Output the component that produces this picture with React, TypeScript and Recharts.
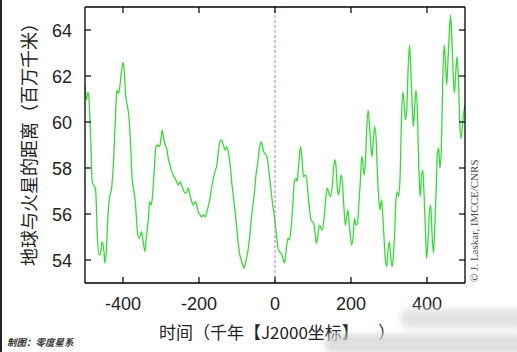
import { LineChart, Line, XAxis, YAxis, ReferenceLine } from 'recharts';

// time in kyr relative to J2000
const years = [
  -500, -497, -492, -490, -485, -481, -477, -472, -468, -463, -459, -455, -450, -448, -444, -439,
  -435, -430, -424, -419, -416, -412, -409, -404, -400, -397, -393, -389, -384, -380, -376, -371,
  -367, -362, -358, -354, -351, -347, -342, -339, -333, -330, -326, -323, -318, -314, -310, -304,
  -300, -297, -293, -289, -285, -281, -276, -272, -268, -263, -259, -254, -250, -246, -241, -237,
  -232, -228, -224, -219, -215, -210, -206, -202, -197, -193, -188, -184, -180, -175, -171, -167,
  -162, -158, -153, -149, -145, -140, -136, -131, -127, -123, -118, -114, -109, -105, -98, -94,
  -89, -85, -82, -79, -73, -67, -63, -58, -54, -50, -45, -41, -36, -32, -28, -23,
  -19, -15, -10, -6, -1, 3, 8, 12, 16, 21, 25, 29, 34, 38, 43, 47,
  51, 56, 58, 63, 67, 71, 75, 80, 84, 88, 94, 98, 102, 106, 109, 113,
  117, 121, 124, 129, 133, 137, 142, 146, 151, 155, 158, 161, 164, 167, 171, 174,
  178, 181, 185, 188, 192, 195, 199, 202, 206, 209, 213, 217, 221, 225, 228, 231,
  234, 238, 241, 245, 248, 252, 255, 259, 262, 266, 269, 273, 276, 280, 283, 287,
  290, 294, 297, 301, 304, 308, 311, 315, 318, 322, 325, 329, 332, 336, 340, 343,
  347, 350, 354, 357, 361, 364, 368, 371, 375, 378, 382, 385, 389, 392, 396, 399,
  403, 406, 410, 413, 417, 420, 424, 427, 431, 434, 438, 441, 445, 448, 452, 455,
  459, 462, 465, 469, 472, 476, 479, 483, 486, 490, 493, 497, 500,
];

// Earth-Mars distance, million km
const distance = [
  61.61, 60.96, 61.29, 61.1, 59.29, 57.41, 57.26, 57.04, 55.23, 54.22, 54.29, 54.8, 54.36, 53.86, 54.36, 56.1,
  56.75, 57.12, 58.57, 60.59, 61.39, 61.25, 61.46, 62.19, 62.59, 62.26, 61.17, 60.74, 60.16, 59.0, 57.55, 56.97,
  56.39, 55.23, 54.94, 55.09, 55.23, 54.8, 54.36, 54.94, 55.81, 56.54, 56.39, 56.68, 57.84, 58.86, 59.0, 58.93,
  59.29, 59.65, 59.29, 59.0, 58.86, 58.42, 58.13, 57.84, 57.7, 57.55, 57.41, 57.26, 57.41, 57.26, 57.04, 56.9,
  56.97, 57.12, 56.83, 56.54, 56.39, 56.54, 56.39, 56.1, 55.96, 55.88, 55.96, 55.88, 56.03, 56.39, 56.68, 57.12,
  57.55, 57.84, 58.13, 58.71, 59.14, 59.22, 59.0, 58.78, 58.93, 58.71, 58.13, 57.41, 56.68, 56.1, 54.94, 54.36,
  54.0, 53.78, 53.64, 53.78, 54.22, 54.94, 55.67, 56.39, 56.97, 57.7, 58.28, 58.86, 59.14, 58.86, 58.64, 58.57,
  58.28, 57.7, 56.97, 56.39, 55.81, 55.23, 54.51, 54.36, 54.29, 54.07, 53.86, 54.36, 54.94, 54.87, 55.52, 56.39,
  57.41, 57.55, 57.41, 58.28, 58.93, 58.42, 57.62, 57.7, 57.41, 56.68, 55.81, 55.67, 55.59, 55.09, 54.72, 55.09,
  55.52, 55.38, 55.3, 55.81, 56.54, 57.12, 56.9, 56.75, 57.26, 58.13, 58.35, 57.99, 57.12, 56.83, 57.26, 57.7,
  57.26, 56.39, 55.52, 55.81, 56.17, 55.67, 54.94, 54.65, 55.09, 55.81, 55.52, 55.59, 56.54, 57.55, 58.49, 58.28,
  57.7, 58.28, 59.58, 60.52, 60.01, 59.0, 58.49, 59.29, 59.8, 59.29, 57.99, 56.68, 56.17, 56.61, 56.1, 54.94,
  54.07, 53.71, 54.36, 54.8, 54.22, 53.71, 54.07, 55.23, 56.54, 56.97, 56.75, 57.55, 59.58, 61.32, 60.74, 60.09,
  60.59, 62.19, 63.35, 62.48, 60.74, 59.8, 60.74, 61.39, 60.3, 58.28, 56.75, 57.55, 57.91, 56.97, 55.23, 54.07,
  54.94, 55.96, 56.39, 55.23, 54.29, 55.23, 56.97, 58.57, 58.86, 57.99, 59.0, 61.46, 63.35, 62.77, 61.61, 62.62,
  63.93, 64.65, 63.78, 62.04, 61.25, 62.19, 62.84, 61.75, 60.01, 59.29, 59.87, 60.45, 60.74,
];

const xTicks = [-400, -200, 0, 200, 400];
const yTicks = [54, 56, 58, 60, 62, 64];

const yTitle = '地球与火星的距离（百万千米）';
const xTitle = '时间（千年【J2000坐标】';
const xTitleEnd = '）';
const credit = '© J. Laskar, IMCCE/CNRS';
const source = '制图：零度星系';

const data = years.map((t, i) => ({ t, d: distance[i] }));

const cjk = '"Noto Sans CJK SC", "Noto Sans", sans-serif';
const sans = '"Liberation Sans", Arial, sans-serif';
const TICK = 6;

// inward tick marks drawn by hand; labels outside
const BottomTick = (p: any) => (
  <g>
    <line x1={p.x} y1={p.y} x2={p.x} y2={p.y - TICK} stroke="#000" strokeWidth={1.2} />
    <text x={p.x} y={p.y + 27} textAnchor="middle" fontSize={18} fill="#222" fontFamily={sans}>
      {p.payload.value}
    </text>
  </g>
);

const TopTick = (p: any) => (
  <line x1={p.x} y1={p.y} x2={p.x} y2={p.y + TICK} stroke="#000" strokeWidth={1.2} />
);

const LeftTick = (p: any) => (
  <g>
    <line x1={p.x} y1={p.y} x2={p.x + TICK} y2={p.y} stroke="#000" strokeWidth={1.2} />
    <text x={p.x - 13} y={p.y + 6.5} textAnchor="end" fontSize={18} fill="#222" fontFamily={sans}>
      {p.payload.value}
    </text>
  </g>
);

const RightTick = (p: any) => (
  <line x1={p.x} y1={p.y} x2={p.x - TICK} y2={p.y} stroke="#000" strokeWidth={1.2} />
);

export default function App() {
  return (
    <div style={{ position: 'absolute', left: 0, top: 0, width: 517, height: 352, background: '#fff', overflow: 'hidden' }}>
      <div style={{ position: 'absolute', left: 0, top: 0, width: 2, height: 352, background: '#222' }} />
      <LineChart width={517} height={352} data={data} margin={{ top: 6, right: 51, bottom: 0, left: 0 }}>
        <XAxis
          xAxisId="b"
          dataKey="t"
          type="number"
          domain={[-500, 500]}
          ticks={xTicks}
          allowDataOverflow
          height={69}
          tickSize={0}
          tickMargin={0}
          tickLine={false}
          axisLine={{ stroke: '#000', strokeWidth: 1.3 }}
          tick={<BottomTick />}
        />
        <XAxis
          xAxisId="top"
          orientation="top"
          dataKey="t"
          type="number"
          domain={[-500, 500]}
          ticks={xTicks}
          allowDataOverflow
          height={1}
          tickSize={0}
          tickMargin={0}
          tickLine={false}
          axisLine={{ stroke: '#000', strokeWidth: 1.3 }}
          tick={<TopTick />}
        />
        <YAxis
          yAxisId="l"
          type="number"
          domain={[53, 65]}
          ticks={yTicks}
          allowDataOverflow
          width={85}
          tickSize={0}
          tickMargin={0}
          tickLine={false}
          axisLine={{ stroke: '#000', strokeWidth: 1.3 }}
          tick={<LeftTick />}
        />
        <YAxis
          yAxisId="r"
          orientation="right"
          type="number"
          domain={[53, 65]}
          ticks={yTicks}
          allowDataOverflow
          width={1}
          tickSize={0}
          tickMargin={0}
          tickLine={false}
          axisLine={{ stroke: '#000', strokeWidth: 1.3 }}
          tick={<RightTick />}
        />
        <ReferenceLine xAxisId="b" yAxisId="l" x={0} stroke="#cc66cc" strokeDasharray="3 2" />
        <Line
          xAxisId="b"
          yAxisId="l"
          type="monotone"
          dataKey="d"
          stroke="#33de33"
          strokeWidth={1.3}
          dot={false}
          isAnimationActive={false}
        />
      </LineChart>
      <svg width={517} height={352} style={{ position: 'absolute', left: 0, top: 0, pointerEvents: 'none' }}>
        <text transform="translate(27.5,140) rotate(-90)" textAnchor="middle" dominantBaseline="central"
          fontSize={18} fill="#222" fontFamily={cjk}>{yTitle}</text>
        <text x={159} y={331} dominantBaseline="central" fontSize={17} fill="#222" fontFamily={cjk}>
          {xTitle}
          <tspan dx={28}>{xTitleEnd}</tspan>
        </text>
        <text transform="translate(478,282) rotate(-90)" fontSize={11} fill="#444"
          fontFamily='"Liberation Serif", "Times New Roman", serif'>{credit}</text>
        <text x={7} y={346} fontSize={9.5} fontStyle="italic" fontWeight="bold" fill="#333" fontFamily={cjk}>{source}</text>
        <defs>
          <filter id="blur" x="-20%" y="-50%" width="140%" height="200%">
            <feGaussianBlur stdDeviation="3" />
          </filter>
        </defs>
        <g filter="url(#blur)" opacity={0.8}>
          <rect x={400} y={309} width={130} height={19} rx={9} fill="#dcdcdc" />
          <rect x={325} y={334} width={200} height={20} rx={9} fill="#d6d6d6" />
        </g>
      </svg>
    </div>
  );
}
